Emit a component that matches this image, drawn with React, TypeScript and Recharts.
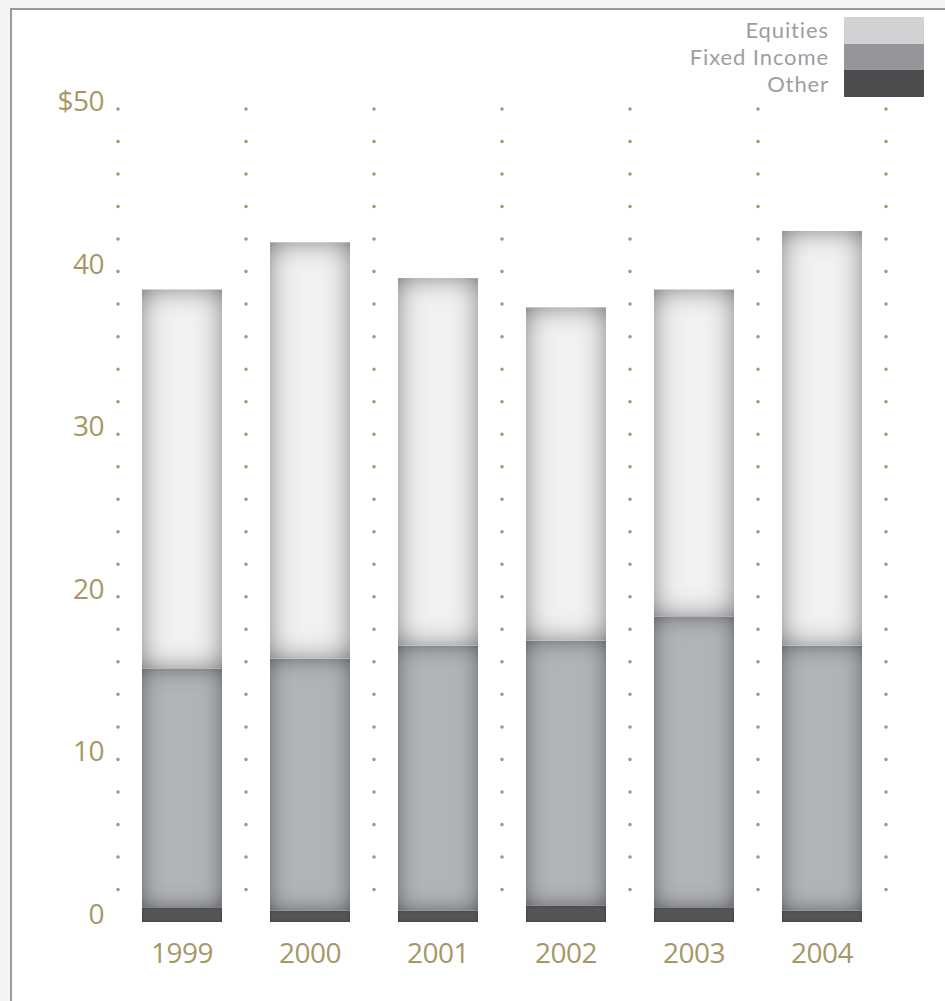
import { BarChart, Bar, XAxis, YAxis, CartesianGrid } from "recharts";

const years = ["1999", "2000", "2001", "2002", "2003", "2004"];
const other = [0.9, 0.7, 0.7, 1.0, 0.9, 0.7];
const fixedIncome = [14.7, 15.5, 16.3, 16.3, 17.9, 16.3];
const equities = [23.3, 25.6, 22.6, 20.5, 20.1, 25.5];
const yTicks = [0, 10, 20, 30, 40, 50];

const data = years.map((year, i) => ({
  year,
  other: other[i],
  fixedIncome: fixedIncome[i],
  equities: equities[i],
}));

const GOLD = "#a69866";
const FONT = "'Open Sans', sans-serif";

const SERIES = [
  { key: "other", name: "Other", fill: "#545458", edge: "#3a3a3e", blur: 1.5, swatch: "#4d4d4f" },
  { key: "fixedIncome", name: "Fixed Income", fill: "#b1b4b7", edge: "#3e4044", blur: 11, swatch: "#939598" },
  { key: "equities", name: "Equities", fill: "#f2f2f2", edge: "#4c4f56", blur: 14, swatch: "#d1d2d4" },
];

// soft inner shadow along the edges of each bar segment
function GlowFilter({ id, edge, blur }: { id: string; edge: string; blur: number }) {
  return (
    <filter id={id} filterUnits="userSpaceOnUse" x={0} y={0} width={945} height={1001}>
      <feFlood floodColor={edge} result="flood" />
      <feComposite in="flood" in2="SourceAlpha" operator="out" result="outside" />
      <feGaussianBlur in="outside" stdDeviation={blur} result="blurred" />
      <feComposite in="blurred" in2="SourceAlpha" operator="in" result="inner" />
      <feMerge>
        <feMergeNode in="SourceGraphic" />
        <feMergeNode in="inner" />
      </feMerge>
    </filter>
  );
}

const segmentShape = (filterId: string) => (props: any) => {
  const { x, y, width, height, fill } = props;
  if (!height || height <= 0) return <g />;
  return <rect x={x} y={y} width={width} height={height} fill={fill} filter={`url(#${filterId})`} />;
};

function YTick(props: any) {
  const { x, y, payload } = props;
  const label = payload.value === 50 ? "$50" : String(payload.value);
  return (
    <text x={x} y={y + 2} textAnchor="end" fill={GOLD} fontSize={28} fontFamily={FONT} letterSpacing={-0.5}>
      {label}
    </text>
  );
}

function XTick(props: any) {
  const { x, y, payload } = props;
  return (
    <text x={x} y={y + 41} textAnchor="middle" fill={GOLD} fontSize={28} fontFamily={FONT} letterSpacing={-0.5}>
      {payload.value}
    </text>
  );
}

function LegendBox() {
  const rows = [...SERIES].reverse();
  return (
    <div style={{ position: "absolute", left: 600, top: 17, width: 324 }}>
      {rows.map((s) => (
        <div key={s.key} style={{ display: "flex", height: 26.7, alignItems: "center" }}>
          <div
            style={{
              flex: 1,
              textAlign: "right",
              paddingRight: 15,
              color: "#9c9ea1",
              fontFamily: "Lato, sans-serif",
              fontSize: 22,
              lineHeight: "26px",
              letterSpacing: 0.9,
            }}
          >
            {s.name}
          </div>
          <div style={{ width: 80, height: "100%", background: s.swatch }} />
        </div>
      ))}
    </div>
  );
}

export default function App() {
  return (
    <div
      style={{
        position: "fixed",
        left: 0,
        top: 0,
        width: 945,
        height: 1001,
        overflow: "hidden",
        background: "#f4f4f4",
      }}
    >
      <div
        style={{
          position: "absolute",
          left: 10,
          top: 8,
          width: 1000,
          height: 1100,
          background: "#fff",
          borderLeft: "2px solid #9a9a9a",
          borderTop: "2px solid #9a9a9a",
        }}
      />
      <div style={{ position: "absolute", left: 0, top: 0 }}>
        <BarChart
          width={945}
          height={1001}
          data={data}
          margin={{ top: 109, right: 59, bottom: 39, left: 58 }}
          barSize={80}
        >
          <defs>
            {SERIES.map((s) => (
              <GlowFilter key={s.key} id={`glow-${s.key}`} edge={s.edge} blur={s.blur} />
            ))}
          </defs>
          <CartesianGrid
            horizontal={false}
            stroke={GOLD}
            strokeWidth={3.5}
            strokeLinecap="round"
            strokeDasharray="0 32.52"
            verticalCoordinatesGenerator={({ offset }: any) =>
              Array.from({ length: years.length + 1 }, (_, i) => offset.left + (offset.width / years.length) * i)
            }
          />
          <XAxis
            dataKey="year"
            height={40}
            axisLine={false}
            tickLine={false}
            tickSize={0}
            tickMargin={0}
            tick={<XTick />}
            interval={0}
          />
          <YAxis
            width={60}
            domain={[0, 50]}
            ticks={yTicks}
            axisLine={false}
            tickLine={false}
            tickSize={0}
            tickMargin={14}
            tick={<YTick />}
            interval={0}
          />
          {SERIES.map((s) => (
            <Bar
              key={s.key}
              dataKey={s.key}
              name={s.name}
              stackId="total"
              fill={s.fill}
              shape={segmentShape(`glow-${s.key}`)}
              isAnimationActive={false}
            />
          ))}
        </BarChart>
      </div>
      <LegendBox />
    </div>
  );
}
